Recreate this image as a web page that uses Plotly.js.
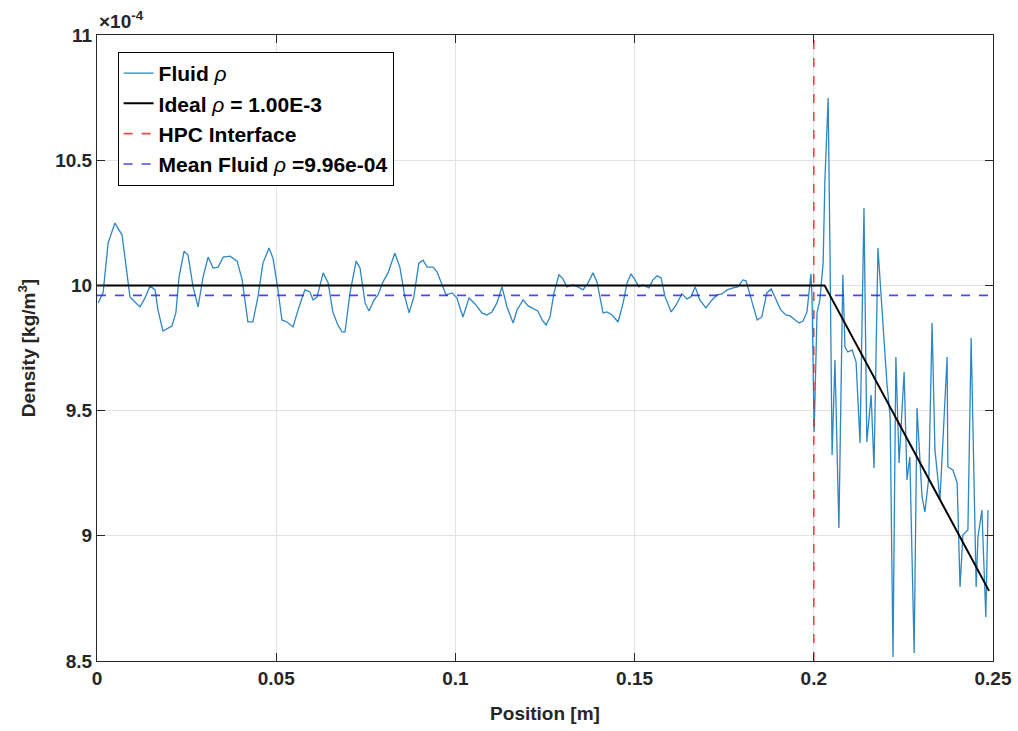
<!DOCTYPE html>
<html>
<head>
<meta charset="utf-8">
<script src="https://cdn.plot.ly/plotly-3.0.1.min.js"></script>
<style>
html,body{margin:0;padding:0;background:#fff;}
#chart{width:1018px;height:731px;}
</style>
</head>
<body>
<div id="chart"></div>
<script>
// Position [m]
var positionX = [
0.0003,0.0017,0.0031,0.0050,0.0070,0.0084,0.0092,0.0106,0.0120,0.0134,
0.0148,0.0162,0.0170,0.0184,0.0209,0.0220,0.0229,0.0243,0.0254,0.0268,
0.0282,0.0296,0.0310,0.0324,0.0338,0.0352,0.0371,0.0391,0.0405,0.0421,
0.0435,0.0449,0.0463,0.0480,0.0491,0.0505,0.0516,0.0530,0.0547,0.0561,
0.0580,0.0594,0.0603,0.0614,0.0631,0.0645,0.0658,0.0672,0.0684,0.0692,
0.0706,0.0723,0.0734,0.0748,0.0759,0.0773,0.0784,0.0798,0.0812,0.0831,
0.0845,0.0859,0.0871,0.0884,0.0898,0.0910,0.0921,0.0938,0.0949,0.0963,
0.0974,0.0991,0.1004,0.1021,0.1038,0.1055,0.1074,0.1088,0.1102,0.1116,
0.1130,0.1144,0.1161,0.1172,0.1189,0.1203,0.1219,0.1230,0.1242,0.1253,
0.1264,0.1275,0.1289,0.1300,0.1311,0.1328,0.1342,0.1356,0.1370,0.1384,
0.1395,0.1412,0.1423,0.1437,0.1454,0.1468,0.1479,0.1490,0.1501,0.1512,
0.1523,0.1540,0.1551,0.1563,0.1574,0.1585,0.1602,0.1616,0.1632,0.1646,
0.1657,0.1669,0.1682,0.1699,0.1716,0.1730,0.1744,0.1758,0.1775,0.1788,
0.1802,0.1811,0.1822,0.1842,0.1855,0.1869,0.1881,0.1892,0.1908,0.1922,
0.1934,0.1948,0.1959,0.1970,0.1981,0.1992,0.1995,0.2001,0.2009,0.2017,
0.2026,0.2031,0.2040,0.2045,0.2051,0.2059,0.2070,0.2081,0.2087,0.2095,
0.2107,0.2118,0.2129,0.2140,0.2148,0.2160,0.2168,0.2179,0.2190,0.2204,
0.2213,0.2221,0.2229,0.2238,0.2252,0.2260,0.2268,0.2280,0.2288,0.2302,
0.2310,0.2321,0.2330,0.2338,0.2352,0.2372,0.2374,0.2388,0.2400,0.2408,
0.2416,0.2430,0.2439,0.2453,0.2458,0.2469,0.2480,0.2486
];
// Fluid density [x 1e-4 kg/m^3]
var fluidRho = [
9.930,9.970,10.169,10.249,10.201,10.050,9.954,9.934,9.914,9.950,
9.998,9.982,9.902,9.818,9.838,9.890,10.034,10.137,10.121,9.994,
9.914,10.034,10.113,10.069,10.073,10.113,10.117,10.097,10.022,9.854,
9.854,9.954,10.089,10.149,10.109,9.982,9.862,9.854,9.834,9.902,
9.982,9.974,9.942,9.954,10.050,10.010,9.894,9.842,9.814,9.814,
9.970,10.097,10.069,9.930,9.898,9.942,9.962,10.014,10.050,10.129,
10.073,9.954,9.890,9.954,10.089,10.101,10.073,10.073,10.053,10.002,
9.962,9.970,9.950,9.874,9.950,9.926,9.890,9.882,9.894,9.930,
9.994,9.914,9.850,9.902,9.942,9.918,9.906,9.898,9.862,9.842,
9.874,9.970,10.042,10.026,9.994,10.002,9.994,9.982,10.010,10.050,
10.014,9.890,9.894,9.882,9.854,9.930,10.010,10.046,10.022,9.994,
10.002,9.990,10.022,10.038,10.030,9.954,9.894,9.922,9.966,9.946,
9.954,9.994,9.942,9.910,9.942,9.962,9.966,9.982,9.990,9.994,
10.022,10.018,9.962,9.862,9.874,9.970,9.986,9.950,9.902,9.882,
9.878,9.862,9.850,9.858,9.894,10.046,9.954,9.415,9.890,9.942,
10.089,10.421,10.748,10.153,9.323,9.702,9.031,10.042,9.754,9.734,
9.742,9.694,9.371,10.309,9.375,9.562,9.271,10.149,9.890,9.610,
9.474,8.516,9.714,9.291,9.654,9.223,9.315,8.532,9.510,9.155,
9.095,9.235,9.850,9.343,9.143,9.714,9.275,9.263,9.211,8.796,
9.003,9.023,9.790,8.796,8.995,9.103,8.676,9.103
];
// Ideal density profile
var idealX = [0, 0.2030, 0.2489];
var idealRho = [10.0, 10.0, 8.78];
// HPC interface position
var interfaceX = 0.2;
// Mean fluid density
var meanRho = 9.96;
// Axis ticks
var xTicks = [0, 0.05, 0.1, 0.15, 0.2, 0.25];
var xTickLabels = ['0', '0.05', '0.1', '0.15', '0.2', '0.25'];
var yTicks = [8.5, 9, 9.5, 10, 10.5, 11];
var yTickLabels = ['8.5', '9', '9.5', '10', '10.5', '11'];

var FONT = 'Liberation Sans, Arial, sans-serif';

var traces = [
  {x: positionX, y: fluidRho, type: 'scatter', mode: 'lines', name: '<b>Fluid </b><i>ρ</i>',
   line: {color: '#2f86c4', width: 1.3}},
  {x: idealX, y: idealRho, type: 'scatter', mode: 'lines', name: '<b>Ideal </b><i>ρ</i><b> = 1.00E-3</b>',
   line: {color: '#000000', width: 2}},
  {x: [interfaceX, interfaceX], y: [8.5, 11], type: 'scatter', mode: 'lines', name: '<b>HPC Interface</b>',
   line: {color: 'rgba(235,40,40,0.85)', width: 1.6, dash: 'dash'}},
  {x: [0, 0.25], y: [meanRho, meanRho], type: 'scatter', mode: 'lines', name: '<b>Mean Fluid </b><i>ρ</i><b> =9.96e-04</b>',
   line: {color: 'rgba(40,40,245,0.85)', width: 1.6, dash: 'dash'}}
];

function boldLabels(arr) { return arr.map(function (s) { return '<b>' + s + '</b>'; }); }

var axisCommon = {
  showline: true, linecolor: '#262626', linewidth: 1, mirror: 'ticks',
  ticks: 'inside', ticklen: 8, tickcolor: '#262626', tickwidth: 1,
  showgrid: true, gridcolor: '#e3e3e3', gridwidth: 1, zeroline: false,
  tickfont: {family: FONT, size: 19, color: '#262626'}
};

var layout = {
  width: 1018, height: 731,
  margin: {l: 97, r: 25, t: 35, b: 70},
  paper_bgcolor: '#ffffff', plot_bgcolor: '#ffffff',
  showlegend: true,
  font: {family: FONT, color: '#262626'},
  xaxis: Object.assign({}, axisCommon, {
    range: [0, 0.25], tickvals: xTicks, ticktext: boldLabels(xTickLabels),
    title: {text: '<b>Position [m]</b>', font: {family: FONT, size: 19, color: '#262626'}, standoff: 18}
  }),
  yaxis: Object.assign({}, axisCommon, {
    range: [8.5, 11], tickvals: yTicks, ticktext: boldLabels(yTickLabels),
    title: {text: '<b>Density [kg/m<sup>3</sup>]</b>', font: {family: FONT, size: 19, color: '#262626'}, standoff: 14}
  }),
  legend: {
    x: 0.023, y: 0.973, xanchor: 'left', yanchor: 'top',
    bgcolor: '#ffffff', bordercolor: '#000000', borderwidth: 1,
    font: {family: FONT, size: 21, color: '#000000'},
    tracegroupgap: 0, itemwidth: 30
  },
  annotations: [{
    xref: 'paper', yref: 'paper', x: 0, y: 1, xanchor: 'left', yanchor: 'bottom',
    yshift: 1, showarrow: false,
    text: '<b>×10<sup>-4</sup></b>', font: {family: FONT, size: 19, color: '#262626'}
  }]
};

Plotly.newPlot('chart', traces, layout, {staticPlot: true, displayModeBar: false});
</script>
</body>
</html>
